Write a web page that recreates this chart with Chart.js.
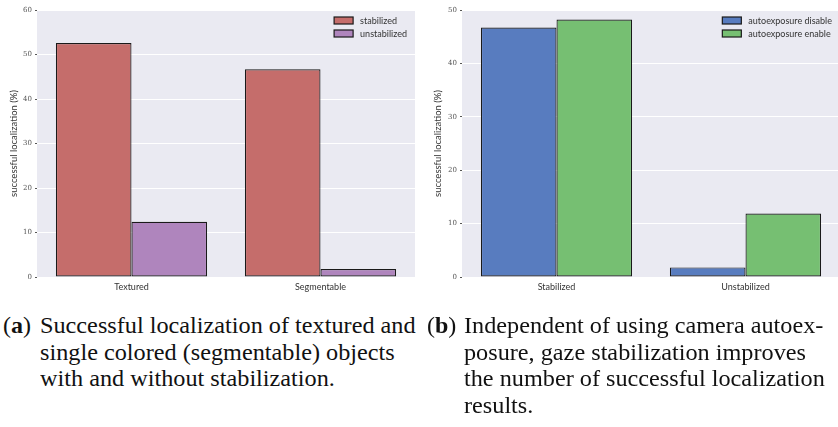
<!DOCTYPE html>
<html>
<head>
<meta charset="utf-8">
<script src="https://cdn.jsdelivr.net/npm/chart.js@4.4.1/dist/chart.umd.min.js"></script>
<style>
  html, body { margin: 0; padding: 0; background: #fff; width: 838px; height: 427px; overflow: hidden; }
  .box { position: absolute; top: 0; height: 300px; }
  #boxA { left: 0; width: 420px; }
  #boxB { left: 418px; width: 422px; }
  .cap { position: absolute; top: 312px; font-family: "Liberation Serif", "Times New Roman", serif; font-size: 24px; line-height: 26.5px; color: #111; white-space: nowrap; }
  .cap .lbl { position: absolute; left: 0; top: 0; }
  .cap .txt { margin-left: 37px; transform: scaleX(1.01); transform-origin: left; }
  #capA { left: 3px; width: 400px; }
  #capB { left: 427px; width: 400px; }
</style>
</head>
<body>
<div class="box" id="boxA"><canvas id="chartA"></canvas></div>
<div class="box" id="boxB"><canvas id="chartB"></canvas></div>
<div class="cap" id="capA"><span class="lbl">(<b>a</b>)</span><div class="txt">Successful localization of textured and<br>single colored (segmentable) objects<br>with and without stabilization.</div></div>
<div class="cap" id="capB"><span class="lbl">(<b>b</b>)</span><div class="txt">Independent of using camera autoex-<br>posure, gaze stabilization improves<br>the number of successful localization<br>results.</div></div>
<script>
// chart (a)
const labelsA = ['Textured', 'Segmentable'];
const stabilized = [52.6, 46.7];
const unstabilized = [12.4, 1.8];
const yTicksA = { max: 60, step: 10 };

// chart (b)
const labelsB = ['Stabilized', 'Unstabilized'];
const aeDisable = [46.7, 1.8];
const aeEnable = [48.2, 11.9];
const yTicksB = { max: 50, step: 10 };

const bg = '#EAEAF2';
const sans = 'Lato, "DejaVu Sans", sans-serif';

// plot background like seaborn darkgrid
const plotBg = {
    id: 'plotBg',
    beforeDraw(chart) {
        const a = chart.chartArea;
        const c = chart.ctx;
        c.save();
        c.fillStyle = bg;
        c.fillRect(a.left, a.top, a.right - a.left, a.bottom - a.top);
        c.restore();
    }
};

// legend inside the plot, top right
const innerLegend = {
    id: 'innerLegend',
    afterDraw(chart) {
        const a = chart.chartArea;
        const c = chart.ctx;
        c.save();
        c.font = '9px ' + sans;
        const sets = chart.data.datasets;
        const tw = Math.max(...sets.map(d => c.measureText(d.label).width));
        const boxL = a.right - 8 - tw - 7 - 19;
        sets.forEach((d, i) => {
            const y = a.top + 7 + i * 13;
            c.fillStyle = d.backgroundColor;
            c.fillRect(boxL, y, 19, 7);
            c.strokeStyle = '#1a1a1a';
            c.lineWidth = 1.2;
            c.strokeRect(boxL, y, 19, 7);
            c.fillStyle = '#333';
            c.textBaseline = 'middle';
            c.textAlign = 'left';
            c.fillText(d.label, boxL + 26, y + 4);
        });
        c.restore();
    }
};

function makeChart(id, labels, sets, yt, yWidth, padRight, titlePad) {
    return new Chart(document.getElementById(id).getContext('2d'), {
        type: 'bar',
        data: {
            labels: labels,
            datasets: sets.map(s => ({
                label: s.label,
                data: s.data,
                backgroundColor: s.color,
                borderColor: '#1a1a1a',
                borderWidth: 1.2,
                borderSkipped: false,
                categoryPercentage: 0.8,
                barPercentage: 1.0
            }))
        },
        options: {
            responsive: false,
            animation: false,
            devicePixelRatio: 1,
            layout: { padding: { top: 10, right: padRight, left: 0, bottom: 0 } },
            plugins: {
                legend: { display: false },
                tooltip: { enabled: false }
            },
            scales: {
                x: {
                    afterFit: s => { s.height = 23; },
                    grid: { display: false, drawTicks: false },
                    border: { display: false },
                    ticks: { color: '#333', padding: 5, font: { family: sans, size: 9 } }
                },
                y: {
                    min: 0,
                    max: yt.max,
                    afterFit: s => { s.width = yWidth; },
                    grid: { color: '#fff', lineWidth: 1, tickLength: 2, tickColor: '#555' },
                    border: { display: false },
                    ticks: { stepSize: yt.step, color: '#555', padding: 3, font: { family: '"DejaVu Serif", serif', size: 7 } },
                    title: {
                        display: true,
                        text: 'successful localization (%)',
                        color: '#333',
                        padding: { top: titlePad, bottom: 0 },
                        font: { family: sans, size: 9.5 }
                    }
                }
            }
        },
        plugins: [plotBg, innerLegend]
    });
}

function sizeCanvas(id, w, h) {
    const cv = document.getElementById(id);
    cv.width = w; cv.height = h;
    cv.style.width = w + 'px'; cv.style.height = h + 'px';
}
sizeCanvas('chartA', 420, 300);
sizeCanvas('chartB', 422, 300);

makeChart('chartA', labelsA, [
    { label: 'stabilized', data: stabilized, color: '#C56D6B' },
    { label: 'unstabilized', data: unstabilized, color: '#AF85BD' }
], yTicksA, 37, 5, 8);

makeChart('chartB', labelsB, [
    { label: 'autoexposure disable', data: aeDisable, color: '#587CBF' },
    { label: 'autoexposure enable', data: aeEnable, color: '#76BF72' }
], yTicksB, 44, 0, 14);
</script>
</body>
</html>
